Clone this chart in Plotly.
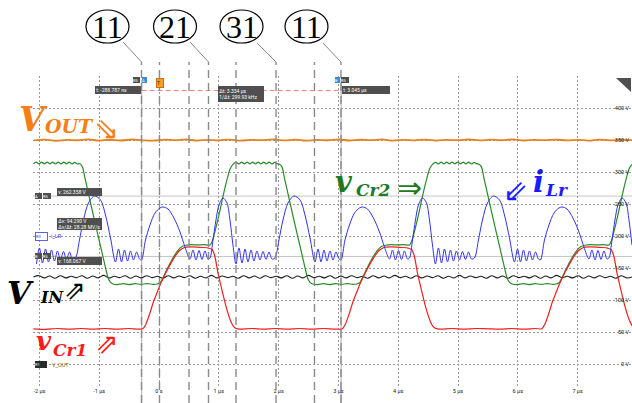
import numpy as np
import plotly.graph_objects as go

W, H = 632, 403

# ---------------- data (time in µs, values in V as read on the scope grid) -------------
tick_t = [-2, -1, 0, 1, 2, 3, 4, 5, 6, 7]
tick_t_text = ['-2 µs', '-1 µs', '0 s', '1 µs', '2 µs', '3 µs', '4 µs', '5 µs', '6 µs', '7 µs']
tick_v = [0, 50, 100, 150, 200, 250, 300, 350, 400, 450]
tick_v_text = ['0 V', '50 V', '100 V', '150 V', '200 V', '250 V', '300 V', '350 V', '400 V', '']

vout_v = [349.5, 350.5, 348.8, 350.2, 349.6, 351, 349, 350.4, 349.2, 350.8, 349.5, 348.9, 350.6, 349.8,
          350.9, 349.1, 350.3, 349.4, 350.7, 349, 350.2, 349.7, 351, 349.3, 350.5, 348.9, 350.1, 349.6,
          350.8, 349.2, 350.4, 349.8, 350.9, 349, 350.3, 349.5, 350.6, 349.1, 350.2, 349.7, 350.8, 349.3,
          350.5, 349.6, 350.9, 349.2, 350.1, 349.8, 350.6, 349.4, 350.3, 349, 350.7, 349.5, 350.2, 349.8]

vin_v = [136, 138, 134.5, 137.5, 134, 138, 134.5, 137, 135, 138, 134, 137.5, 134.5, 138.5, 134.5, 137, 135, 138, 134, 137.5,
         134.5, 138, 135, 137, 134, 138, 134.5, 137.5, 135, 138, 134, 137, 134.5, 138.5, 134.5, 137.5, 135, 137, 134, 138,
         134.5, 137.5, 134, 138, 135, 137, 134.5, 138, 134, 137.5, 134.5, 138.5, 135, 137, 134.5, 138, 134, 137.5, 134.5, 138,
         135, 137, 134, 138, 134.5, 137.5, 134.5, 138.5, 135, 137, 134, 138, 134.5, 137.5, 135, 138, 134, 137, 134.5, 138.5,
         134.5, 137.5, 135, 137, 134, 138, 134.5, 137.5, 134, 138, 135, 137, 134.5, 138, 134, 137.5, 134.5, 138.5, 135, 137,
         134.5, 138, 134, 137.5, 134.5, 138, 135, 137, 134, 138, 134.5, 136]

vcr2_t = [-2.10, -2.054, -2.008, -1.962, -1.916, -1.870, -1.824, -1.778, -1.732, -1.686, -1.640, -1.594, -1.548, -1.502, -1.456, -1.410, -1.364, -1.32,
          -1.28, -1.237, -1.15, -1.06, -0.97, -0.886, -0.85, -0.81, -0.769,
          -0.70, -0.60, -0.50, -0.40, -0.30, -0.20, -0.10, -0.03,
          0.02, 0.08, 0.134, 0.234, 0.32, 0.385, 0.45, 0.55, 0.65, 0.75, 0.853, 0.89, 0.93, 1.0, 1.07, 1.137, 1.19, 1.237,
          1.29, 1.336, 1.382, 1.428, 1.474, 1.520, 1.566, 1.612, 1.658, 1.704, 1.750, 1.796, 1.842, 1.888, 1.934, 1.975,
          2.016, 2.056, 2.099, 2.186, 2.276, 2.366, 2.45, 2.486, 2.526, 2.567,
          2.65, 2.75, 2.85, 2.95, 3.05, 3.15, 3.24, 3.306,
          3.356, 3.416, 3.47, 3.57, 3.656, 3.721, 3.786, 3.886, 3.986, 4.086, 4.189, 4.226, 4.266, 4.336, 4.406, 4.473, 4.526, 4.573,
          4.626, 4.672, 4.718, 4.764, 4.810, 4.856, 4.902, 4.948, 4.994, 5.040, 5.086, 5.132, 5.178, 5.224, 5.270, 5.311,
          5.352, 5.392, 5.435, 5.522, 5.612, 5.702, 5.786, 5.822, 5.862, 5.903,
          5.99, 6.09, 6.19, 6.29, 6.39, 6.49, 6.58, 6.642,
          6.692, 6.752, 6.806, 6.906, 6.992, 7.057, 7.122, 7.222, 7.322, 7.422, 7.525, 7.562, 7.602, 7.672, 7.742, 7.809, 7.862, 7.909]
vcr2_v = [313, 315.5, 312.5, 315.5, 312.5, 315.5, 312.5, 315.5, 312.5, 315.5, 312.5, 315.5, 312.5, 315.5, 312.5, 315, 312.5, 313,
          308, 290, 254, 217, 181, 147, 134, 127.5, 125,
          124, 125.5, 124, 125.5, 124.5, 125.5, 124.5, 125,
          127, 137.5, 148, 166, 178, 183.5, 185.5, 186.5, 186, 186.5, 186, 192, 205, 232, 262, 288, 305, 312,
          315, 312.5, 315.5, 312.5, 315.5, 312.5, 315.5, 312.5, 315.5, 312.5, 315.5, 312.5, 315.5, 312.5, 315, 313,
          312, 308, 290, 254, 217, 181, 147, 134, 127.5, 125,
          124, 125.5, 124, 125.5, 124.5, 125.5, 124.5, 125,
          127, 137.5, 148, 166, 178, 183.5, 185.5, 186.5, 186, 186.5, 186, 192, 205, 232, 262, 288, 305, 312,
          315, 312.5, 315.5, 312.5, 315.5, 312.5, 315.5, 312.5, 315.5, 312.5, 315.5, 312.5, 315.5, 312.5, 315, 313,
          312, 308, 290, 254, 217, 181, 147, 134, 127.5, 125,
          124, 125.5, 124, 125.5, 124.5, 125.5, 124.5, 125,
          127, 137.5, 148, 166, 178, 183.5, 185.5, 186.5, 186, 186.5, 186, 192, 205, 232, 262, 288, 305, 312]

vcr1_t = [-2.10, -1.9, -1.7, -1.5, -1.3, -1.1, -0.9, -0.7, -0.5, -0.35, -0.27,
          -0.22, -0.15, -0.09, -0.03, 0.02, 0.08, 0.134, 0.234, 0.32, 0.385, 0.45, 0.55, 0.65, 0.75, 0.83, 0.886,
          0.93, 0.987, 1.054, 1.12, 1.187, 1.24, 1.29,
          1.35, 1.55, 1.75, 1.95, 2.15, 2.35, 2.55, 2.75, 2.95, 3.066,
          3.116, 3.186, 3.246, 3.306, 3.356, 3.416, 3.47, 3.57, 3.656, 3.721, 3.786, 3.886, 3.986, 4.086, 4.166, 4.222,
          4.266, 4.323, 4.39, 4.456, 4.523, 4.576, 4.626,
          4.7, 4.9, 5.1, 5.3, 5.5, 5.7, 5.9, 6.1, 6.3, 6.402,
          6.452, 6.522, 6.582, 6.642, 6.692, 6.752, 6.806, 6.906, 6.992, 7.057, 7.122, 7.222, 7.322, 7.422, 7.502, 7.558,
          7.602, 7.659, 7.726, 7.792, 7.859, 7.912]
vcr1_v = [55, 54, 55.5, 54.5, 55.5, 54.5, 55.5, 54.5, 55.5, 54.5, 55,
          62, 80, 98, 112, 124, 136, 146, 163, 175, 180, 182.5, 183, 182.5, 182, 181, 179,
          170, 142, 115, 90, 70, 59.5, 55.5,
          54.5, 55.5, 54.5, 55.5, 54.5, 55.5, 54.5, 55.5, 54.5, 55,
          62, 80, 98, 112, 124, 136, 146, 163, 175, 180, 182.5, 183, 182.5, 182, 181, 179,
          170, 142, 115, 90, 70, 59.5, 55.5,
          54.5, 55.5, 54.5, 55.5, 55, 54.5, 55.5, 54.5, 55.5, 55,
          62, 80, 98, 112, 124, 136, 146, 163, 175, 180, 182.5, 183, 182.5, 182, 181, 179,
          170, 142, 115, 90, 70, 59.5]

ilr_t = [-2.049, -1.999, -1.948, -1.898, -1.848, -1.798, -1.748, -1.698, -1.647, -1.597, -1.547, -1.497, -1.447,
         -1.397, -1.330, -1.263, -1.179, -1.079, -0.978, -0.895, -0.811, -0.728,
         -0.677, -0.627, -0.577, -0.527, -0.477, -0.427, -0.376, -0.326,
         -0.293, -0.226, -0.151, -0.067, 0.016, 0.067, 0.150, 0.250, 0.351, 0.434, 0.518,
         0.568, 0.618, 0.669, 0.719, 0.769, 0.819,
         0.852, 0.903, 0.953, 1.003, 1.070, 1.137, 1.187, 1.237, 1.287,
         1.337, 1.388, 1.438, 1.488, 1.538, 1.588, 1.638, 1.689, 1.739, 1.789, 1.839, 1.889,
         1.939, 2.006, 2.073, 2.157, 2.257, 2.358, 2.441, 2.525, 2.608,
         2.659, 2.709, 2.759, 2.809, 2.859, 2.909, 2.960, 3.010,
         3.043, 3.110, 3.185, 3.269, 3.352, 3.403, 3.486, 3.586, 3.687, 3.770, 3.854,
         3.904, 3.954, 4.005, 4.055, 4.105, 4.155,
         4.188, 4.239, 4.289, 4.339, 4.406, 4.473, 4.523, 4.573, 4.623,
         4.673, 4.724, 4.774, 4.824, 4.874, 4.924, 4.974, 5.025, 5.075, 5.125, 5.175, 5.225,
         5.275, 5.342, 5.409, 5.493, 5.593, 5.694, 5.777, 5.861, 5.944,
         5.995, 6.045, 6.095, 6.145, 6.195, 6.245, 6.296, 6.346,
         6.379, 6.446, 6.521, 6.605, 6.688, 6.739, 6.822, 6.922, 7.023, 7.106, 7.190,
         7.240, 7.290, 7.341, 7.391, 7.441, 7.491,
         7.524, 7.575, 7.625, 7.675, 7.742, 7.809, 7.859, 7.909]
ilr_v = [156.3, 181.3, 157.8, 179.7, 159.4, 178.1, 160.9, 176.6, 162.5, 175.8, 163.3, 175, 164.1,
         165.6, 193.8, 225, 251.6, 262.5, 256.3, 232.8, 196.9, 159.4,
         179.7, 159.4, 178.1, 160.9, 176.6, 162.5, 175, 164.1,
         162.5, 193.8, 217.2, 235.9, 243.8, 245.3, 242.2, 228.1, 206.3, 182.8, 164.1,
         178.1, 162.5, 177.3, 163.3, 176.6, 164.1,
         165.6, 193.8, 225, 248.4, 259.4, 251.6, 225, 185.9, 156.3,
         181.3, 157.8, 179.7, 159.4, 178.1, 160.9, 176.6, 162.5, 175.8, 163.3, 175, 164.1,
         165.6, 193.8, 225, 251.6, 262.5, 256.3, 232.8, 196.9, 159.4,
         179.7, 159.4, 178.1, 160.9, 176.6, 162.5, 175, 164.1,
         162.5, 193.8, 217.2, 235.9, 243.8, 245.3, 242.2, 228.1, 206.3, 182.8, 164.1,
         178.1, 162.5, 177.3, 163.3, 176.6, 164.1,
         165.6, 193.8, 225, 248.4, 259.4, 251.6, 225, 185.9, 156.3,
         181.3, 157.8, 179.7, 159.4, 178.1, 160.9, 176.6, 162.5, 175.8, 163.3, 175, 164.1,
         165.6, 193.8, 225, 251.6, 262.5, 256.3, 232.8, 196.9, 159.4,
         179.7, 159.4, 178.1, 160.9, 176.6, 162.5, 175, 164.1,
         162.5, 193.8, 217.2, 235.9, 243.8, 245.3, 242.2, 228.1, 206.3, 182.8, 164.1,
         178.1, 162.5, 177.3, 163.3, 176.6, 164.1,
         165.6, 193.8, 225, 248.4, 259.4, 251.6, 225, 185.9]

cursor_t = [-0.2888, 3.045]
cursor_v = [262.358, 168.067]
mark_t = [-0.293, 0.008, 0.502, 0.828, 1.288, 1.957, 2.600, 3.043]
circle_labels = ['11', '21', '31', '11']

# ---------------- layout geometry (pixels) ----------------
X0PX, PXUS = 159.0, 59.8
Y0PX, PXV = 364.0, 0.64
x_lo, x_hi = (33 - X0PX) / PXUS, (W - X0PX) / PXUS
y_top_px, y_bot_px = 76, 386
y_hi, y_lo = (Y0PX - y_top_px) / PXV, (Y0PX - y_bot_px) / PXV


def px(x):
    return x / W


def py(y):
    return 1 - y / H


vout_t = np.linspace(-2.09, 7.91, len(vout_v))
vin_t = np.linspace(-2.10, 7.91, len(vin_v))

fig = go.Figure()
fig.add_trace(go.Scatter(x=vout_t, y=vout_v, mode='lines',
                         line=dict(color='#e5821f', width=1.8, shape='spline')))
fig.add_trace(go.Scatter(x=vin_t, y=vin_v, mode='lines',
                         line=dict(color='#1e1e1e', width=1.1, shape='spline')))
fig.add_trace(go.Scatter(x=vcr2_t, y=vcr2_v, mode='lines',
                         line=dict(color='#2a8a2a', width=1.2, shape='spline', smoothing=0.8)))
fig.add_trace(go.Scatter(x=vcr1_t, y=vcr1_v, mode='lines',
                         line=dict(color='#f02020', width=1.2, shape='spline', smoothing=0.8)))
fig.add_trace(go.Scatter(x=ilr_t, y=ilr_v, mode='lines',
                         line=dict(color='#3030f0', width=1.0, shape='spline', smoothing=0.9)))

shapes = []
ann = []

# cursor lines
for v in cursor_v:
    shapes.append(dict(type='line', xref='paper', yref='y', x0=px(33), x1=1, y0=v, y1=v,
                       line=dict(color='#c4c4c4', width=1), layer='below'))
for t in cursor_t:
    shapes.append(dict(type='line', xref='x', yref='paper', x0=t, x1=t, y0=0, y1=py(80),
                       line=dict(color='#a8a8a8', width=1), layer='below'))
# red dashed delta-t line
shapes.append(dict(type='line', xref='x', yref='paper', x0=cursor_t[0], x1=cursor_t[1],
                   y0=py(90.5), y1=py(90.5), line=dict(color='#f08a80', width=1, dash='5px,3px')))
# annotation dashed verticals
for t in mark_t:
    shapes.append(dict(type='line', xref='x', yref='paper', x0=t, x1=t, y0=0, y1=py(62),
                       line=dict(color='#8a8a8a', width=1.4, dash='8px,5px')))
# circled labels + leader lines
circ_cx = [107.5, 175, 241.5, 306.5]
leaders = [(123, 42, 141.5, 62), (190, 42, 208.5, 62), (257, 43, 276, 62), (323, 43, 341, 62)]
for cx, lab, (x0, y0, x1, y1) in zip(circ_cx, circle_labels, leaders):
    shapes.append(dict(type='circle', xref='paper', yref='paper', x0=px(cx - 21.5), x1=px(cx + 21.5),
                       y0=py(43), y1=py(10), line=dict(color='black', width=1.2)))
    ann.append(dict(xref='paper', yref='paper', x=px(cx), y=py(26.5), text=lab, showarrow=False,
                    xanchor='center', yanchor='middle',
                    font=dict(family='Liberation Serif', size=32, color='black')))
    shapes.append(dict(type='line', xref='paper', yref='paper', x0=px(x0), y0=py(y0), x1=px(x1), y1=py(y1),
                       line=dict(color='#8a8a8a', width=1)))
# top-right triangle icon
shapes.append(dict(type='path', xref='paper', yref='paper',
                   path=f'M {px(616)},{py(78)} L {px(631)},{py(78)} L {px(631)},{py(92)} Z',
                   fillcolor='#505050', line=dict(width=0)))


def box(x0, y0, w, h, text, bg='#4f4f4f', fc='white', size=5, border=None):
    ann.append(dict(xref='paper', yref='paper', x=px(x0), y=py(y0), xanchor='left', yanchor='top',
                    text=text, showarrow=False, bgcolor=bg, width=w, height=h, align='left',
                    borderpad=0, bordercolor=border if border else bg, borderwidth=1 if border else 0,
                    font=dict(family='Roboto', size=size, color=fc)))


box(133, 77, 7, 6, 'R5', size=4)
box(142, 77, 5, 6, 'A', bg='#3a8ad6', size=4)
box(335, 77, 5, 6, 'B', bg='#3a8ad6', size=4)
box(341, 77, 8, 6, 'R5', size=4)
box(156, 78, 6, 8, 'T', bg='#f0a030', fc='#222', size=5, border='#d86a00')
box(95, 86, 46, 8, ' t: -288.787 ns')
box(218, 86, 46, 16, ' Δt: 3.334 µs<br> 1/Δt: 299.93 kHz')
box(342, 86, 48, 8, ' t: 3.045 µs')
box(35, 193, 7, 6, 'A', size=4)
box(43, 193, 8, 6, 'R5', size=4)
box(57, 188, 45, 8, ' v: 262.358 V')
box(57, 218, 45, 12, ' Δv: 94.290 V<br> Δv/Δt: 28.28 MV/s')
box(35, 232, 11, 7, 'R3', bg='white', fc='#3030f0', size=4, border='#6060f0')
ann.append(dict(xref='paper', yref='paper', x=px(49), y=py(235.5), xanchor='left', yanchor='middle',
                text='i_LR', showarrow=False, font=dict(family='Roboto', size=5.5, color='#3030f0')))
box(35, 253, 7, 6, 'B', size=4)
box(43, 253, 8, 6, 'R5', size=4)
box(57, 257, 45, 8, ' v: 168.067 V')
box(35, 361, 12, 7, 'R1', bg='#2a2a2a', size=4)
ann.append(dict(xref='paper', yref='paper', x=px(50), y=py(364.5), xanchor='left', yanchor='middle',
                text='V_OUT', showarrow=False, font=dict(family='Roboto', size=5.5, color='#8a5a10')))


def lab(x, y, text, size, color, anchor='left'):
    ann.append(dict(xref='paper', yref='paper', x=px(x), y=py(y), xanchor=anchor, yanchor='middle',
                    text=f'<b><i>{text}</i></b>', showarrow=False, borderpad=0,
                    font=dict(family='DejaVu Serif', size=size, color=color)))


def arrow(x, y, ch, size, color):
    ann.append(dict(xref='paper', yref='paper', x=px(x), y=py(y), xanchor='center', yanchor='middle',
                    text=ch, showarrow=False, borderpad=0,
                    font=dict(family='DejaVu Sans', size=size, color=color)))


orange, green, blue, red = '#f57f17', '#1f7a1f', '#1a1aff', '#ff1a1a'
lab(18, 120, 'V', 33, orange)
lab(44, 125.5, 'OUT', 19, orange)
arrow(106, 128, '⇘', 30, orange)
lab(334, 182, 'v', 29, green)
lab(355, 190, 'Cr2', 17, green)
arrow(409.5, 187.5, '⇒', 30, green)
lab(532, 182, 'i', 29, blue)
lab(544, 190, 'Lr', 17, blue)
arrow(515, 191, '⇙', 30, blue)
lab(6, 292.5, 'V', 31, 'black')
lab(39, 297.5, 'IN', 16, 'black')
arrow(75, 289.5, '⇗', 26, 'black')
lab(35, 341.3, 'v', 26, red)
lab(52, 350, 'Cr1', 17, red)
arrow(106, 343, '⇗', 28, red)

fig.update_layout(
    width=W, height=H, margin=dict(l=0, r=0, t=0, b=0),
    paper_bgcolor='white', plot_bgcolor='white', showlegend=False,
    shapes=shapes, annotations=ann,
    xaxis=dict(domain=[px(33), 1], range=[x_lo, x_hi], tickvals=tick_t, ticktext=tick_t_text,
               showgrid=True, gridcolor='#9a9a9a', griddash='2px,2px', gridwidth=1, zeroline=False,
               showline=False, ticks='', tickfont=dict(family='Roboto', size=5.5, color='#222')),
    yaxis=dict(domain=[py(y_bot_px), py(y_top_px)], range=[y_lo, y_hi], tickvals=tick_v, ticktext=tick_v_text,
               side='right', ticklabelposition='inside', showgrid=True, gridcolor='#9a9a9a',
               griddash='2px,2px', gridwidth=1, zeroline=False, showline=False, ticks='',
               tickfont=dict(family='Roboto', size=5.5, color='#222')),
)
fig.write_html('out.html')
